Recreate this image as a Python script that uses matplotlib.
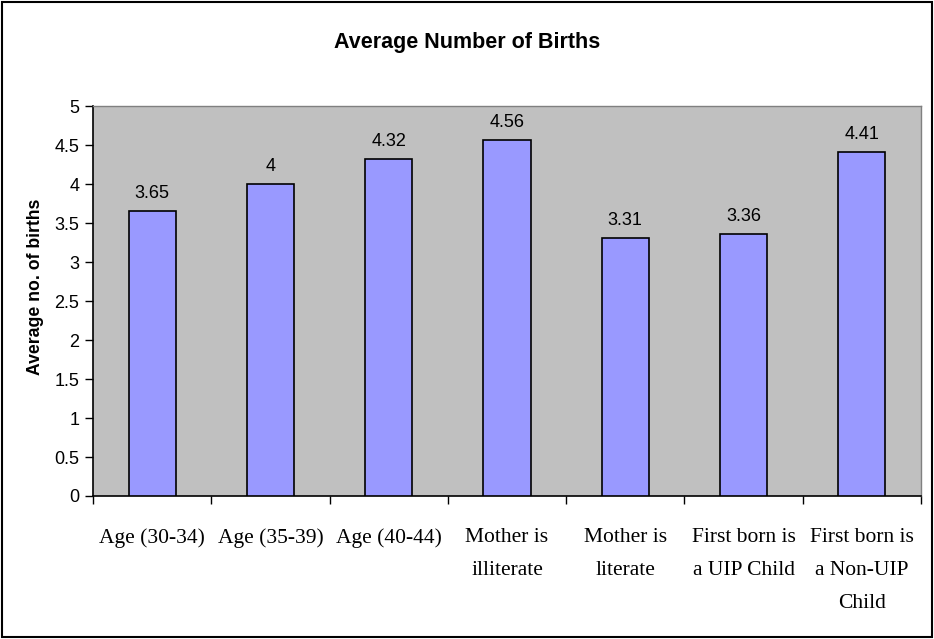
import matplotlib.pyplot as plt
import numpy as np
from matplotlib.patches import Rectangle

categories = ["Age (30-34)", "Age (35-39)", "Age (40-44)", "Mother is\nilliterate",
              "Mother is\nliterate", "First born is\na UIP Child", "First born is\na Non-UIP\nChild"]
values = [3.65, 4, 4.32, 4.56, 3.31, 3.36, 4.41]
value_labels = ["3.65", "4", "4.32", "4.56", "3.31", "3.36", "4.41"]
yticks = [0, 0.5, 1, 1.5, 2, 2.5, 3, 3.5, 4, 4.5, 5]
ytick_labels = ["0", "0.5", "1", "1.5", "2", "2.5", "3", "3.5", "4", "4.5", "5"]

fig = plt.figure(figsize=(9.34, 6.39), dpi=100)
ax = fig.add_axes([0.0996, 0.2238, 0.8864, 0.6102])
ax.set_facecolor('#C0C0C0')

x = np.arange(len(categories))
ax.bar(x, values, width=0.4, color='#9999FF', edgecolor='black', linewidth=1.2, zorder=3)
for xi, v, lab in zip(x, values, value_labels):
    ax.text(xi, v + 0.12, lab, ha='center', va='bottom', fontsize=13, family='Liberation Sans')

ax.set_xlim(-0.5, len(categories) - 0.5)
ax.set_ylim(0, 5)
ax.set_yticks(yticks)
ax.set_yticklabels(ytick_labels, fontsize=13, family='Liberation Sans')
ax.set_xticks(x)
ax.set_xticklabels(categories, fontsize=15.5, family='Liberation Serif', linespacing=2.0)
ax.set_xticks(np.arange(len(categories) + 1) - 0.5, minor=True)
ax.tick_params(axis='x', which='major', length=0, pad=23)
ax.tick_params(axis='x', which='minor', length=6, width=1, color='black')
ax.tick_params(axis='y', length=6, width=1, pad=4)

for s in ['top', 'right']:
    ax.spines[s].set_color('#808080')
    ax.spines[s].set_linewidth(1)
for s in ['left', 'bottom']:
    ax.spines[s].set_color('black')
    ax.spines[s].set_linewidth(1.2)

ax.set_ylabel('Average no. of births', fontsize=12.7, fontweight='bold', family='Liberation Sans')
ax.yaxis.set_label_coords(-0.0595, 0.536)
fig.text(0.5, 0.933, 'Average Number of Births', ha='center', va='center',
         fontsize=15.5, fontweight='bold', family='Liberation Sans')

fig.patches.append(Rectangle((0.002, 0.003), 0.996, 0.994, transform=fig.transFigure,
                             fill=False, edgecolor='black', linewidth=1.5))

fig.savefig('out.png', dpi=100)
